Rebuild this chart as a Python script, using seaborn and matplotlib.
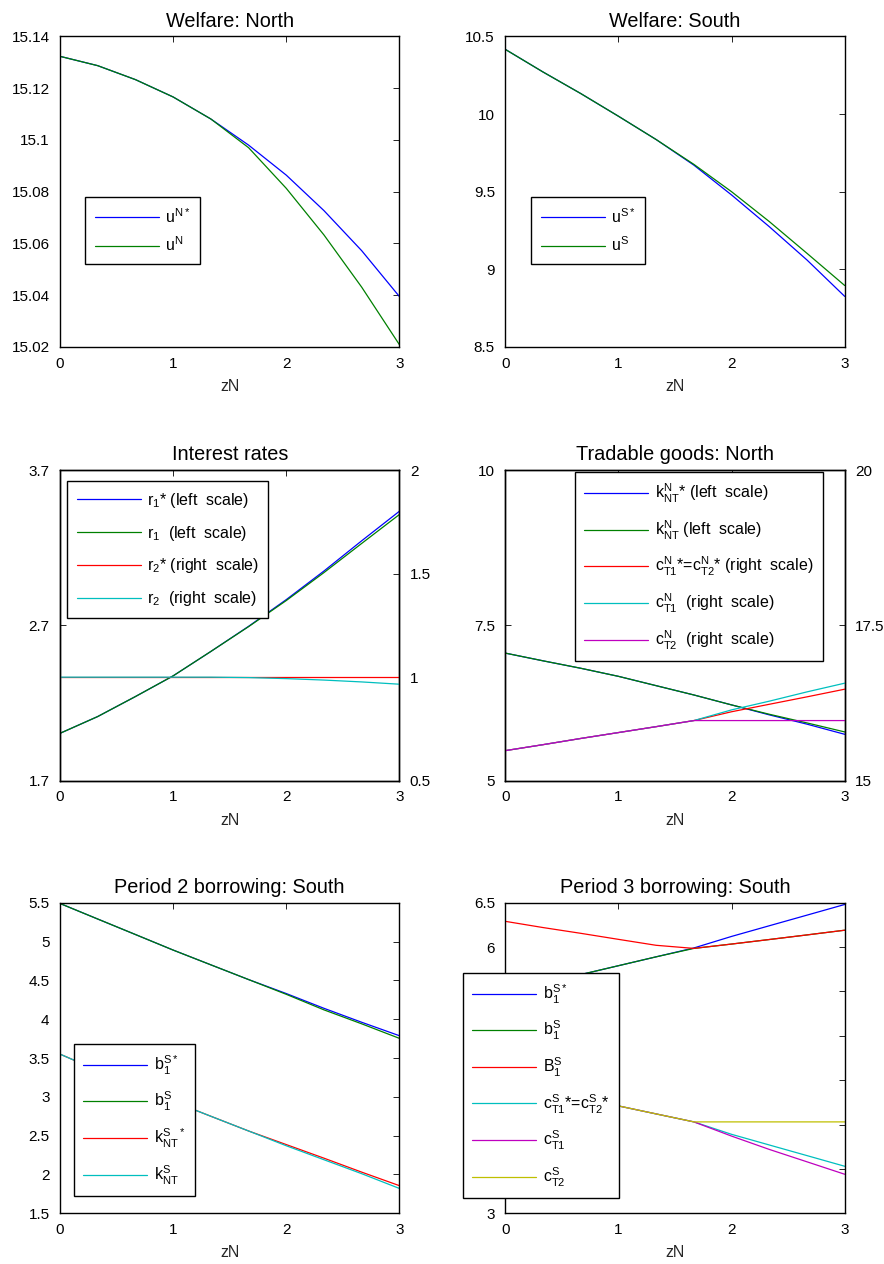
import matplotlib
matplotlib.use("Agg")

import matplotlib.pyplot as plt
import seaborn as sns
from matplotlib.ticker import FormatStrFormatter


ZN = [0, 0.333, 0.667, 1, 1.333, 1.667, 2, 2.333, 2.667, 3]

# Welfare: North
U_N_STAR = [15.1323, 15.1287, 15.1233, 15.1166, 15.1081, 15.0980, 15.0864, 15.0727, 15.0572, 15.0395]
U_N = [15.1323, 15.1287, 15.1233, 15.1166, 15.1081, 15.0970, 15.0813, 15.0633, 15.0431, 15.0209]

# Welfare: South
U_S_STAR = [10.4165, 10.271, 10.132, 9.986, 9.836, 9.671, 9.479, 9.275, 9.060, 8.826]
U_S = [10.4165, 10.271, 10.132, 9.986, 9.836, 9.676, 9.500, 9.308, 9.103, 8.896]

# Interest rates
R1_STAR = [2.005, 2.113, 2.242, 2.375, 2.532, 2.694, 2.866, 3.050, 3.245, 3.435]
R1 = [2.005, 2.113, 2.242, 2.375, 2.532, 2.692, 2.860, 3.040, 3.228, 3.414]
R2_STAR = [1.0, 1.0, 1.0, 1.0, 1.0, 1.0, 1.0, 1.0, 1.0, 1.0]
R2 = [1.0, 1.0, 1.0, 1.0, 1.0, 0.998, 0.993, 0.986, 0.977, 0.966]

# Tradable goods: North
K_NT_N_STAR = [7.054, 6.93, 6.81, 6.68, 6.53, 6.38, 6.22, 6.06, 5.91, 5.747]
K_NT_N = [7.054, 6.93, 6.81, 6.68, 6.53, 6.38, 6.22, 6.07, 5.93, 5.785]
C_T_N_STAR = [15.484, 15.58, 15.68, 15.775, 15.87, 15.968, 16.11, 16.23, 16.35, 16.473]
C_T1_N = [15.484, 15.58, 15.68, 15.775, 15.87, 15.968, 16.14, 16.28, 16.43, 16.57]
C_T2_N = [15.484, 15.58, 15.68, 15.775, 15.87, 15.968, 15.968, 15.968, 15.968, 15.968]

# Period 2 borrowing: South
B1_S_STAR = [5.49, 5.29, 5.09, 4.89, 4.70, 4.51, 4.33, 4.14, 3.96, 3.787]
B1_S = [5.49, 5.29, 5.09, 4.89, 4.70, 4.51, 4.32, 4.12, 3.94, 3.753]
K_NT_S_STAR = [3.55, 3.34, 3.14, 2.94, 2.75, 2.56, 2.385, 2.21, 2.03, 1.856]
K_NT_S = [3.55, 3.34, 3.14, 2.94, 2.75, 2.56, 2.37, 2.19, 2.01, 1.82]

# Period 3 borrowing: South
P3_B1_STAR = [5.49, 5.59, 5.69, 5.79, 5.89, 5.99, 6.12, 6.24, 6.36, 6.48]
P3_B1 = [5.49, 5.59, 5.69, 5.79, 5.89, 5.985, 6.034, 6.085, 6.137, 6.19]
P3_BIG_B1 = [6.29, 6.22, 6.155, 6.087, 6.02, 5.985, 6.034, 6.085, 6.137, 6.19]
P3_C_STAR = [4.48, 4.39, 4.30, 4.21, 4.12, 4.03, 3.89, 3.77, 3.65, 3.53]
P3_C_T1 = [4.48, 4.39, 4.30, 4.21, 4.12, 4.03, 3.87, 3.72, 3.58, 3.44]
P3_C_T2 = [4.48, 4.39, 4.30, 4.21, 4.12, 4.03, 4.03, 4.03, 4.03, 4.03]

BLUE = (0, 0, 1)
GREEN = (0, 0.5, 0)
RED = (1, 0, 0)
CYAN = (0, 0.75, 0.75)
MAGENTA = (0.75, 0, 0.75)
OLIVE = (0.75, 0.75, 0)

TICK_FS = 11
LABEL_FS = 11.5
TITLE_FS = 14.3
LEG_FS = 11.5

sns.set_theme(style="white")
plt.rcParams.update({
    "font.family": ["Liberation Sans", "DejaVu Sans"],
    "mathtext.fontset": "custom",
    "mathtext.rm": "Liberation Sans",
    "mathtext.it": "Liberation Sans",
    "mathtext.default": "regular",
    "axes.edgecolor": "black",
    "axes.linewidth": 1.0,
    "text.color": "black",
    "xtick.color": "black",
    "ytick.color": "black",
})

W, H = 884, 1264
LEFT = [60 / W, 505.3 / W]
WIDTH = 339.4 / W
BOTTOM = [1 - 347 / H, 1 - 780.7 / H, 1 - 1213.3 / H]
HEIGHT = 310.6 / H


def draw(ax, y, color, label):
    sns.lineplot(x=ZN, y=y, ax=ax, color=color, label=label,
                 linewidth=0.9, legend=False)
    return ax.lines[-1]


def style(ax, title, yticks, ylim, right=True):
    ax.set_xlim(0, 3)
    ax.set_ylim(*ylim)
    ax.set_xticks([0, 1, 2, 3])
    ax.set_yticks(yticks)
    ax.yaxis.set_major_formatter(FormatStrFormatter("%g"))
    ax.tick_params(direction="in", length=4, width=0.6, labelsize=TICK_FS,
                   top=True, right=right)
    ax.tick_params(axis="x", pad=7)
    ax.tick_params(axis="y", pad=7.5)
    ax.set_title(title, fontsize=TITLE_FS, pad=7)
    ax.set_xlabel("zN", fontsize=LABEL_FS, labelpad=6)
    ax.set_ylabel("")


def right_axis(ax2, yticks, ylim):
    ax2.set_ylim(*ylim)
    ax2.set_yticks(yticks)
    ax2.yaxis.set_major_formatter(FormatStrFormatter("%g"))
    ax2.tick_params(direction="in", length=4, width=0.6, labelsize=TICK_FS,
                    pad=7.5)
    ax2.set_ylabel("")


def legend(ax, handles, anchor, spacing):
    leg = ax.legend(handles=handles, loc="upper left", bbox_to_anchor=anchor,
                    fontsize=LEG_FS, handlelength=4.0, handletextpad=0.4,
                    labelspacing=spacing, borderpad=0.6, borderaxespad=0,
                    fancybox=False, framealpha=1, edgecolor="black",
                    facecolor="white")
    leg.get_frame().set_linewidth(1.0)
    leg.set_zorder(10)
    return leg


fig = plt.figure(figsize=(W / 100, H / 100), dpi=100)

# Welfare: North
ax = fig.add_axes([LEFT[0], BOTTOM[0], WIDTH, HEIGHT])
h = [draw(ax, U_N_STAR, BLUE, r"$u^{N*}$"), draw(ax, U_N, GREEN, r"$u^{N}$")]
style(ax, "Welfare: North", [15.02, 15.04, 15.06, 15.08, 15.1, 15.12, 15.14], (15.02, 15.14))
legend(ax, h, (0.074, 0.482), 0.62)

# Welfare: South
ax = fig.add_axes([LEFT[1], BOTTOM[0], WIDTH, HEIGHT])
h = [draw(ax, U_S_STAR, BLUE, r"$u^{S*}$"), draw(ax, U_S, GREEN, r"$u^{S}$")]
style(ax, "Welfare: South", [8.5, 9, 9.5, 10, 10.5], (8.5, 10.5))
legend(ax, h, (0.076, 0.482), 0.62)

# Interest rates
ax = fig.add_axes([LEFT[0], BOTTOM[1], WIDTH, HEIGHT])
h = [draw(ax, R1_STAR, BLUE, r"$r_1$* (left  scale)"),
     draw(ax, R1, GREEN, r"$r_1$  (left  scale)")]
style(ax, "Interest rates", [1.7, 2.7, 3.7], (1.7, 3.7), right=False)
ax2 = ax.twinx()
h += [draw(ax2, R2_STAR, RED, r"$r_2$* (right  scale)"),
      draw(ax2, R2, CYAN, r"$r_2$  (right  scale)")]
right_axis(ax2, [0.5, 1, 1.5, 2], (0.5, 2))
legend(ax2, h, (0.021, 0.9635), 0.86)

# Tradable goods: North
ax = fig.add_axes([LEFT[1], BOTTOM[1], WIDTH, HEIGHT])
h = [draw(ax, K_NT_N_STAR, BLUE, r"$k^N_{NT}$* (left  scale)"),
     draw(ax, K_NT_N, GREEN, r"$k^N_{NT}$ (left  scale)")]
style(ax, "Tradable goods: North", [5, 7.5, 10], (5, 10), right=False)
ax2 = ax.twinx()
h += [draw(ax2, C_T_N_STAR, RED, r"$c^N_{T1}$*=$c^N_{T2}$* (right  scale)"),
      draw(ax2, C_T1_N, CYAN, r"$c^N_{T1}$  (right  scale)"),
      draw(ax2, C_T2_N, MAGENTA, r"$c^N_{T2}$  (right  scale)")]
right_axis(ax2, [15, 17.5, 20], (15, 20))
legend(ax2, h, (0.205, 0.9926), 0.84)

# Period 2 borrowing: South
ax = fig.add_axes([LEFT[0], BOTTOM[2], WIDTH, HEIGHT])
h = [draw(ax, B1_S_STAR, BLUE, r"$b^{S*}_1$"),
     draw(ax, B1_S, GREEN, r"$b^S_1$"),
     draw(ax, K_NT_S_STAR, RED, r"$k^S_{NT}{}^*$"),
     draw(ax, K_NT_S, CYAN, r"$k^S_{NT}$")]
style(ax, "Period 2 borrowing: South", [1.5, 2, 2.5, 3, 3.5, 4, 4.5, 5, 5.5], (1.5, 5.5))
legend(ax, h, (0.041, 0.545), 0.84)

# Period 3 borrowing: South
ax = fig.add_axes([LEFT[1], BOTTOM[2], WIDTH, HEIGHT])
h = [draw(ax, P3_B1_STAR, BLUE, r"$b^{S*}_1$"),
     draw(ax, P3_B1, GREEN, r"$b^S_1$"),
     draw(ax, P3_BIG_B1, RED, r"$B^S_1$"),
     draw(ax, P3_C_STAR, CYAN, r"$c^S_{T1}$*=$c^S_{T2}$*"),
     draw(ax, P3_C_T1, MAGENTA, r"$c^S_{T1}$"),
     draw(ax, P3_C_T2, OLIVE, r"$c^S_{T2}$")]
style(ax, "Period 3 borrowing: South", [3, 3.5, 4, 4.5, 5, 5.5, 6, 6.5], (3, 6.5))
legend(ax, h, (-0.125, 0.774), 0.84)

fig.savefig("out.png", dpi=100)
